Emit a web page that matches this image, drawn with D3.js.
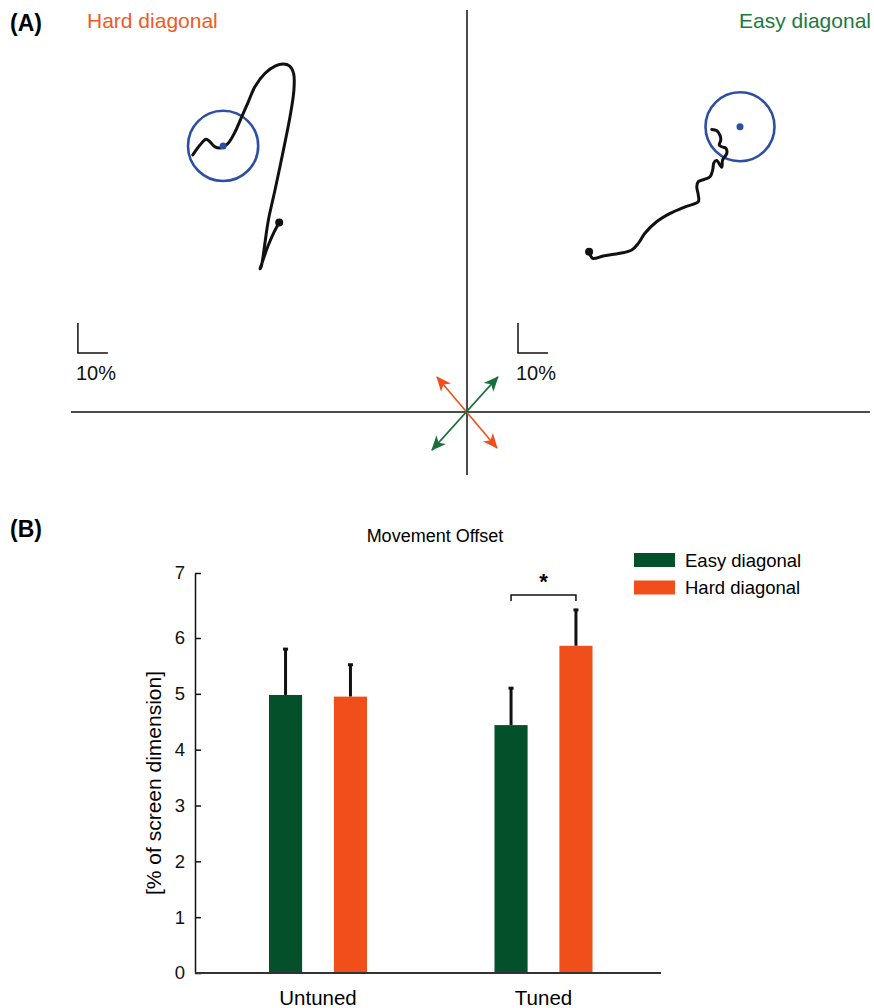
<!DOCTYPE html>
<html>
<head>
<meta charset="utf-8">
<script src="https://cdn.jsdelivr.net/npm/d3@7"></script>
<style>
  body { margin: 0; background: #fff; }
  text { font-family: "Liberation Sans", Arial, sans-serif; }
</style>
</head>
<body>
<script>
// ---- data ----
const series = ["Easy diagonal", "Hard diagonal"];
const seriesColors = ["#03502a", "#f04e1a"];
const groups = ["Untuned", "Tuned"];
const means = { "Untuned": [4.98, 4.95], "Tuned": [4.44, 5.86] };
const errTops = { "Untuned": [5.81, 5.53], "Tuned": [5.11, 6.44] };
const yTicks = [0, 1, 2, 3, 4, 5, 6, 7];

// trajectories, in % of screen (x right, y up), origin at the cross
const hardPath = [
  [-62.6, 63.2], [-64.4, 59.8], [-66.3, 55.4], [-67.8, 51.2], [-68.7, 48.6],
  [-69.0, 47.7], [-68.6, 48.4], [-68.1, 51.0], [-67.4, 56.0], [-66.2, 64.0],
  [-64.0, 74.0], [-61.2, 87.3], [-59.0, 98.4],
  [-57.7, 107.3], [-57.8, 112.9], [-59.2, 115.4], [-61.2, 116.0], [-64.0, 115.3],
  [-67.3, 112.9], [-70.7, 108.4], [-72.9, 103.4], [-75.1, 98.4], [-77.3, 93.4],
  [-79.6, 89.6], [-81.8, 88.1], [-84.0, 88.4], [-85.7, 90.1], [-87.0, 90.9],
  [-89.0, 89.0], [-91.4, 85.7]
];
const easyPath = [
  [40.7, 53.4], [41.9, 51.2], [45.4, 52.0], [51.0, 52.9], [54.9, 54.0],
  [57.1, 56.2], [59.3, 59.6], [63.2, 63.4], [67.7, 66.2], [72.7, 68.4],
  [77.1, 70.1], [77.1, 72.3], [76.6, 75.1], [77.1, 76.8], [79.3, 77.6],
  [81.0, 78.4], [81.9, 80.7], [82.3, 83.1], [83.2, 83.8], [84.9, 81.6],
  [85.2, 84.0], [86.6, 86.2], [86.3, 87.9], [84.9, 88.4], [84.1, 89.0],
  [84.6, 90.7], [84.3, 92.3], [83.2, 93.8], [81.6, 94.2]
];
const hardTarget = [-81.3, 88.7], hardRadius = 11.7;
const easyTarget = [91.0, 95.1], easyRadius = 11.5;
const hardArrow = [[-10, 11.7], [10, -12]];
const easyArrow = [[-11.7, -12.7], [10.3, 11.7]];
const scaleBars = [[-129.7, 19.7], [17, 19.7]];
const scaleLen = 10;

const W = 874, H = 1008;
const svg = d3.select("body").append("svg")
  .attr("width", W).attr("height", H);

const black = "#111";
const blue = "#2d4fa3";
const orangeText = "#f15a24";
const greenText = "#1a7a3e";

// ---- panel A ----
const xA = d3.scaleLinear().domain([-132, 135]).range([71, 872]);
const yA = d3.scaleLinear().domain([-21, 134]).range([475, 10]);

svg.append("text").attr("x", 10).attr("y", 31)
  .style("font-size", "23px").style("font-weight", "bold").text("(A)");
svg.append("text").attr("x", 87).attr("y", 28)
  .style("font-size", "21px").style("fill", orangeText).text("Hard diagonal");
svg.append("text").attr("x", 871).attr("y", 28).attr("text-anchor", "end")
  .style("font-size", "21px").style("fill", greenText).text("Easy diagonal");

// cross
svg.append("line").attr("x1", xA(0)).attr("x2", xA(0))
  .attr("y1", yA(134)).attr("y2", yA(-21)).attr("stroke", black).attr("stroke-width", 1.5);
svg.append("line").attr("x1", xA(-132)).attr("x2", xA(134.3))
  .attr("y1", yA(0)).attr("y2", yA(0)).attr("stroke", black).attr("stroke-width", 1.5);

// arrow markers
const defs = svg.append("defs");
[["arrOrange", "#f04e1a"], ["arrGreen", "#17703c"]].forEach(([id, col]) => {
  defs.append("marker").attr("id", id)
    .attr("viewBox", "0 -7 15 14").attr("refX", 14).attr("refY", 0)
    .attr("markerWidth", 15).attr("markerHeight", 14)
    .attr("markerUnits", "userSpaceOnUse").attr("orient", "auto-start-reverse")
    .append("path").attr("d", "M0,-6.5L15,0L0,6.5L4,0Z").attr("fill", col);
});
[[hardArrow, "#f04e1a", "arrOrange"], [easyArrow, "#17703c", "arrGreen"]].forEach(([a, col, m]) => {
  svg.append("line")
    .attr("x1", xA(a[0][0])).attr("y1", yA(a[0][1]))
    .attr("x2", xA(a[1][0])).attr("y2", yA(a[1][1]))
    .attr("stroke", col).attr("stroke-width", 1.6)
    .attr("marker-start", `url(#${m})`).attr("marker-end", `url(#${m})`);
});

// scale bars
scaleBars.forEach(o => {
  svg.append("path")
    .attr("d", `M${xA(o[0])},${yA(o[1] + scaleLen)}L${xA(o[0])},${yA(o[1])}L${xA(o[0] + scaleLen)},${yA(o[1])}`)
    .attr("fill", "none").attr("stroke", black).attr("stroke-width", 1.5);
  svg.append("text").attr("x", xA(o[0]) - 2).attr("y", yA(o[1]) + 27)
    .style("font-size", "20px").style("fill", black).text("10%");
});

// targets + trajectories
const traj = d3.line().x(d => xA(d[0])).y(d => yA(d[1])).curve(d3.curveCatmullRom.alpha(0.5));
[[hardTarget, hardRadius, hardPath], [easyTarget, easyRadius, easyPath]].forEach(([t, r, p]) => {
  svg.append("circle").attr("cx", xA(t[0])).attr("cy", yA(t[1]))
    .attr("r", xA(r) - xA(0)).attr("fill", "none").attr("stroke", blue).attr("stroke-width", 2.6);
  svg.append("path").attr("d", traj(p)).attr("fill", "none")
    .attr("stroke", black).attr("stroke-width", 3).attr("stroke-linejoin", "round").attr("stroke-linecap", "round");
  svg.append("circle").attr("cx", xA(t[0])).attr("cy", yA(t[1])).attr("r", 3.5).attr("fill", blue);
  svg.append("circle").attr("cx", xA(p[0][0])).attr("cy", yA(p[0][1])).attr("r", 4).attr("fill", black);
});

// ---- panel B ----
svg.append("text").attr("x", 10).attr("y", 537)
  .style("font-size", "23px").style("font-weight", "bold").text("(B)");
svg.append("text").attr("x", 435).attr("y", 542).attr("text-anchor", "middle")
  .style("font-size", "18px").text("Movement Offset");

const y = d3.scaleLinear().domain([0, 6, 7]).range([973, 638, 573]);
const x0 = d3.scaleBand().domain(groups).range([205.25, 656.25]);
const x1 = d3.scaleBand().domain(series).range([-49, 49]).paddingInner(0.49);

const yAxis = d3.axisLeft(y).tickValues(yTicks).tickFormat(d3.format("d"))
  .tickSize(-6).tickSizeOuter(0).tickPadding(10);
const gy = svg.append("g").attr("transform", "translate(195,0)").call(yAxis);
gy.selectAll("path, line").attr("stroke", black).attr("stroke-width", 1.5);
gy.selectAll("text").style("font-size", "18.5px").style("font-family", "Liberation Sans, Arial, sans-serif").attr("fill", black);

svg.append("line").attr("x1", 195).attr("x2", 661).attr("y1", y(0)).attr("y2", y(0))
  .attr("stroke", "#333").attr("stroke-width", 2);

groups.forEach(g => {
  svg.append("text").attr("x", x0(g) + x0.bandwidth() / 2).attr("y", 1005)
    .attr("text-anchor", "middle").style("font-size", "20.5px").text(g);
});

const flat = [];
groups.forEach(g => series.forEach((s, i) => flat.push({ g, s, i, v: means[g][i], e: errTops[g][i] })));
const cx = d => x0(d.g) + x0.bandwidth() / 2 + x1(d.s) + x1.bandwidth() / 2;

// error bars
svg.selectAll(".err").data(flat).enter().append("line")
  .attr("x1", cx).attr("x2", cx).attr("y1", d => y(d.v)).attr("y2", d => y(d.e))
  .attr("stroke", black).attr("stroke-width", 3);
svg.selectAll(".cap").data(flat).enter().append("rect")
  .attr("x", d => cx(d) - 2.5).attr("y", d => y(d.e) - 1).attr("width", 5).attr("height", 3)
  .attr("fill", black);

svg.selectAll(".bar").data(flat).enter().append("rect")
  .attr("x", d => x0(d.g) + x0.bandwidth() / 2 + x1(d.s))
  .attr("y", d => y(d.v)).attr("width", x1.bandwidth())
  .attr("height", d => y(0) - y(d.v) - 1)
  .attr("fill", d => seriesColors[d.i]);

// significance bracket on Tuned
const bL = cx(flat[2]), bR = cx(flat[3]);
svg.append("path").attr("d", `M${bL},601L${bL},595L${bR},595L${bR},601`)
  .attr("fill", "none").attr("stroke", black).attr("stroke-width", 1.5);
svg.append("text").attr("x", (bL + bR) / 2).attr("y", 589).attr("text-anchor", "middle")
  .style("font-size", "22px").style("font-weight", "bold").text("*");

// legend
series.forEach((s, i) => {
  svg.append("rect").attr("x", 634).attr("y", 553 + i * 27.5).attr("width", 41).attr("height", 14)
    .attr("fill", seriesColors[i]);
  svg.append("text").attr("x", 685).attr("y", 567 + i * 27)
    .style("font-size", "18.5px").text(s);
});

// y label
svg.append("text").attr("transform", "translate(161,783) rotate(-90)")
  .attr("text-anchor", "middle").style("font-size", "21px").text("[% of screen dimension]");
</script>
</body>
</html>
